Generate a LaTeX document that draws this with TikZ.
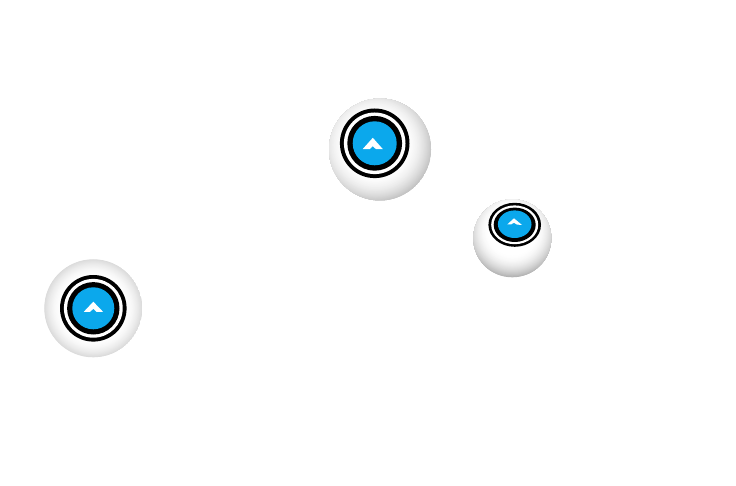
\documentclass[tikz,border=0pt]{standalone}
\definecolor{eyeblue}{HTML}{0BA8EC}
% #1 x, #2 y, #3 radius, #4 x offset of highlight, #5 y offset, #6 darkest grey percent, #7 white core fraction
\newcommand{\shadedball}[7]{%
  \begin{scope}
    \clip (#1,#2) circle[radius=#3];
    \pgfmathsetmacro{\rmax}{#3+veclen(#4,#5)}
    \foreach \i in {0,...,44}{
      \pgfmathsetmacro{\ballr}{\rmax*(1-\i/45*(1-#7))}
      \pgfmathsetmacro{\ballk}{#6*(1-\i/45)^2}
      \fill[black!\ballk] ({#1+#4},{#2+#5}) circle[radius=\ballr];
    }
    \fill[white] ({#1+#4},{#2+#5}) circle[radius={\rmax*#7}];
  \end{scope}}
\begin{document}
\begin{tikzpicture}[x=1pt,y=-1pt]
\useasboundingbox (0,0) rectangle (736,486);
\fill[white] (0,0) rectangle (736,486);
% upper ball
\shadedball{380}{149.5}{51}{-4.5}{-4.5}{24}{0.5}
\fill[black] (374.7,143.3) circle[radius=34.8];
\fill[white] (374.7,143.3) circle[radius=30.8];
\fill[black] (374.7,143.3) circle[radius=27.4];
\fill[eyeblue] (374.7,143.3) circle[radius=22];
\fill[white] (372.8,137.8) -- (382.9,149.2) -- (376,149.2) -- (372.8,146.2) -- (369.6,149.2) -- (362.6,149.2) -- cycle;
% right ball
\shadedball{512.3}{238.3}{39}{0}{-7}{30}{0.5}
\fill[black] (514.7,224.8) ellipse[x radius=26.3,y radius=22];
\fill[white] (514.7,224.8) ellipse[x radius=23.5,y radius=19.4];
\fill[black] (514.7,224.8) ellipse[x radius=21,y radius=17.2];
\fill[eyeblue] (514.7,224.2) ellipse[x radius=16.8,y radius=13.8];
\fill[white] (514,218.3) -- (522,225) -- (517,224.6) -- (514,222.8) -- (511,224.4) -- (507.3,224.4) -- cycle;
% left ball
\shadedball{93.3}{308.3}{49}{0}{0}{14}{0.62}
\fill[black] (93.3,308.3) circle[radius=33.3];
\fill[white] (93.3,308.3) circle[radius=29.4];
\fill[black] (93.3,308.3) circle[radius=26.2];
\fill[eyeblue] (93.3,308.3) circle[radius=21];
\fill[white] (93.3,301.7) -- (103,311.8) -- (96.5,311.8) -- (93.3,308.8) -- (90.1,311.8) -- (83.8,311.8) -- cycle;
\end{tikzpicture}
\end{document}
